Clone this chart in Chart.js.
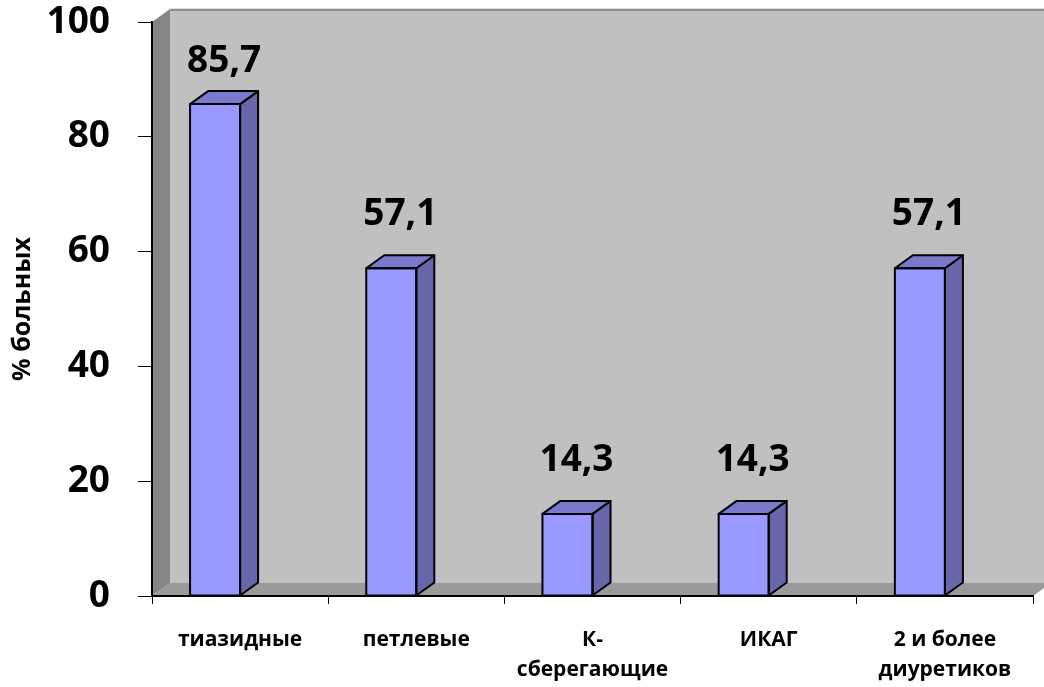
<!DOCTYPE html>
<html>
<head>
<meta charset="utf-8">
<script src="https://cdn.jsdelivr.net/npm/chart.js@4.4.1/dist/chart.umd.min.js"></script>
<style>
  html, body { margin: 0; padding: 0; background: #ffffff; }
  #wrap { width: 1044px; height: 687px; }
</style>
</head>
<body>
<div id="wrap"><canvas id="chart" width="1044" height="687"></canvas></div>
<script>
// Diuretic groups and share of patients receiving each (%)
const categories = ['тиазидные', 'петлевые', ['К-', 'сберегающие'], 'ИКАГ', ['2 и более', 'диуретиков']];
const patientShare = [85.7, 57.1, 14.3, 14.3, 57.1];
const yTickValues = [0, 20, 40, 60, 80, 100];
const yAxisTitle = '% больных';

// Pseudo-3D depth of the box (px)
const DEPTH_X = 18;
const DEPTH_Y = 13;

const FONT = "'Open Sans', 'DejaVu Sans', sans-serif";
Chart.defaults.font.family = FONT;
Chart.defaults.color = '#000000';

const formatValue = v => v.toFixed(1).replace('.', ',');

// Back wall, side wall and floor of the 3D plot box
const boxWalls = {
  id: 'boxWalls',
  beforeDraw(chart) {
    const { ctx, chartArea: a } = chart;
    ctx.save();
    // back wall
    ctx.fillStyle = '#c0c0c0';
    ctx.fillRect(a.left + DEPTH_X, a.top - DEPTH_Y, a.right - a.left + 40, a.bottom - a.top);
    // top rim of the back wall
    ctx.fillStyle = '#dcdcdc';
    ctx.fillRect(a.left + DEPTH_X, a.top - DEPTH_Y - 1, a.right - a.left + 40, 1);
    ctx.fillStyle = '#8e8e8e';
    ctx.fillRect(a.left + DEPTH_X, a.top - DEPTH_Y, a.right - a.left + 40, 2);
    // left side wall
    ctx.fillStyle = '#858585';
    ctx.beginPath();
    ctx.moveTo(a.left, a.top);
    ctx.lineTo(a.left + DEPTH_X, a.top - DEPTH_Y);
    ctx.lineTo(a.left + DEPTH_X, a.bottom - DEPTH_Y);
    ctx.lineTo(a.left, a.bottom);
    ctx.closePath();
    ctx.fill();
    // floor
    ctx.fillStyle = '#9a9a9a';
    ctx.beginPath();
    ctx.moveTo(a.left, a.bottom);
    ctx.lineTo(a.left + DEPTH_X, a.bottom - DEPTH_Y);
    ctx.lineTo(a.right + DEPTH_X, a.bottom - DEPTH_Y);
    ctx.lineTo(a.right, a.bottom);
    ctx.closePath();
    ctx.fill();
    ctx.restore();
  }
};

// Front faces sit left of the category centre; the depth extends to the right
const shiftBars = {
  id: 'shiftBars',
  afterDatasetsUpdate(chart) {
    chart.getDatasetMeta(0).data.forEach(bar => {
      if (!bar._shifted) {
        bar.x -= bar.width / 2;
        bar._shifted = true;
      }
    });
  }
};

// Top and side faces of each column plus the value labels
const columnDepth = {
  id: 'columnDepth',
  afterDatasetsDraw(chart) {
    const { ctx, chartArea: a } = chart;
    const meta = chart.getDatasetMeta(0);
    ctx.save();
    ctx.lineWidth = 2;
    ctx.lineJoin = 'round';
    ctx.strokeStyle = '#000000';
    meta.data.forEach((bar, i) => {
      const L = bar.x - bar.width / 2;
      const R = bar.x + bar.width / 2;
      const T = bar.y;
      const B = bar.base;
      // side face
      ctx.fillStyle = '#6666aa';
      ctx.beginPath();
      ctx.moveTo(R, T);
      ctx.lineTo(R + DEPTH_X, T - DEPTH_Y);
      ctx.lineTo(R + DEPTH_X, B - DEPTH_Y);
      ctx.lineTo(R, B);
      ctx.closePath();
      ctx.fill();
      ctx.stroke();
      // top face
      ctx.fillStyle = '#7a7acc';
      ctx.beginPath();
      ctx.moveTo(L, T);
      ctx.lineTo(L + DEPTH_X, T - DEPTH_Y);
      ctx.lineTo(R + DEPTH_X, T - DEPTH_Y);
      ctx.lineTo(R, T);
      ctx.closePath();
      ctx.fill();
      ctx.stroke();
      // front outline
      ctx.strokeRect(L, T, R - L, B - T);

      // value label
      const v = chart.data.datasets[0].data[i];
      ctx.fillStyle = '#000000';
      ctx.font = "bold 37px " + FONT;
      ctx.textAlign = 'center';
      ctx.textBaseline = 'alphabetic';
      const y = Math.max(T - 43, a.top + 50);
      ctx.fillText(formatValue(v), (L + R + DEPTH_X) / 2, y);
    });
    ctx.restore();
  }
};

new Chart(document.getElementById('chart'), {
  type: 'bar',
  data: {
    labels: categories,
    datasets: [{
      data: patientShare,
      backgroundColor: '#9999ff',
      borderColor: '#000000',
      borderWidth: 0,
      categoryPercentage: 0.284,
      barPercentage: 1.0
    }]
  },
  options: {
    responsive: false,
    animation: false,
    events: [],
    layout: { padding: { top: 22, right: 11, left: 0, bottom: 0 } },
    plugins: {
      legend: { display: false },
      tooltip: { enabled: false },
      title: { display: false }
    },
    scales: {
      x: {
        afterFit(scale) { scale.height = 91; },
        offset: true,
        grid: {
          offset: true,
          drawOnChartArea: false,
          drawTicks: true,
          tickLength: 8,
          color: '#000000',
          lineWidth: 1
        },
        border: { display: true, color: '#000000', width: 2 },
        ticks: {
          color: '#000000',
          font: { size: 21, weight: 'bold', lineHeight: 1.43 },
          padding: 21,
          maxRotation: 0,
          autoSkip: false
        }
      },
      y: {
        afterFit(scale) {
          scale.width = 152;
          scale.paddingTop = 0;
          scale.paddingBottom = 0;
        },
        min: 0,
        max: 100,
        afterBuildTicks(scale) { scale.ticks = yTickValues.map(v => ({ value: v })); },
        grid: {
          drawOnChartArea: false,
          drawTicks: true,
          tickLength: 14,
          color: '#000000',
          lineWidth: 1
        },
        border: { display: true, color: '#000000', width: 2 },
        ticks: {
          color: '#000000',
          font: { size: 37, weight: 'bold', lineHeight: 1.2 },
          padding: 28
        },
        title: {
          display: true,
          text: yAxisTitle,
          color: '#000000',
          font: { size: 25, weight: 'bold', lineHeight: 1.2 },
          padding: { top: 8, bottom: 0 }
        }
      }
    }
  },
  plugins: [boxWalls, shiftBars, columnDepth]
});
</script>
</body>
</html>
